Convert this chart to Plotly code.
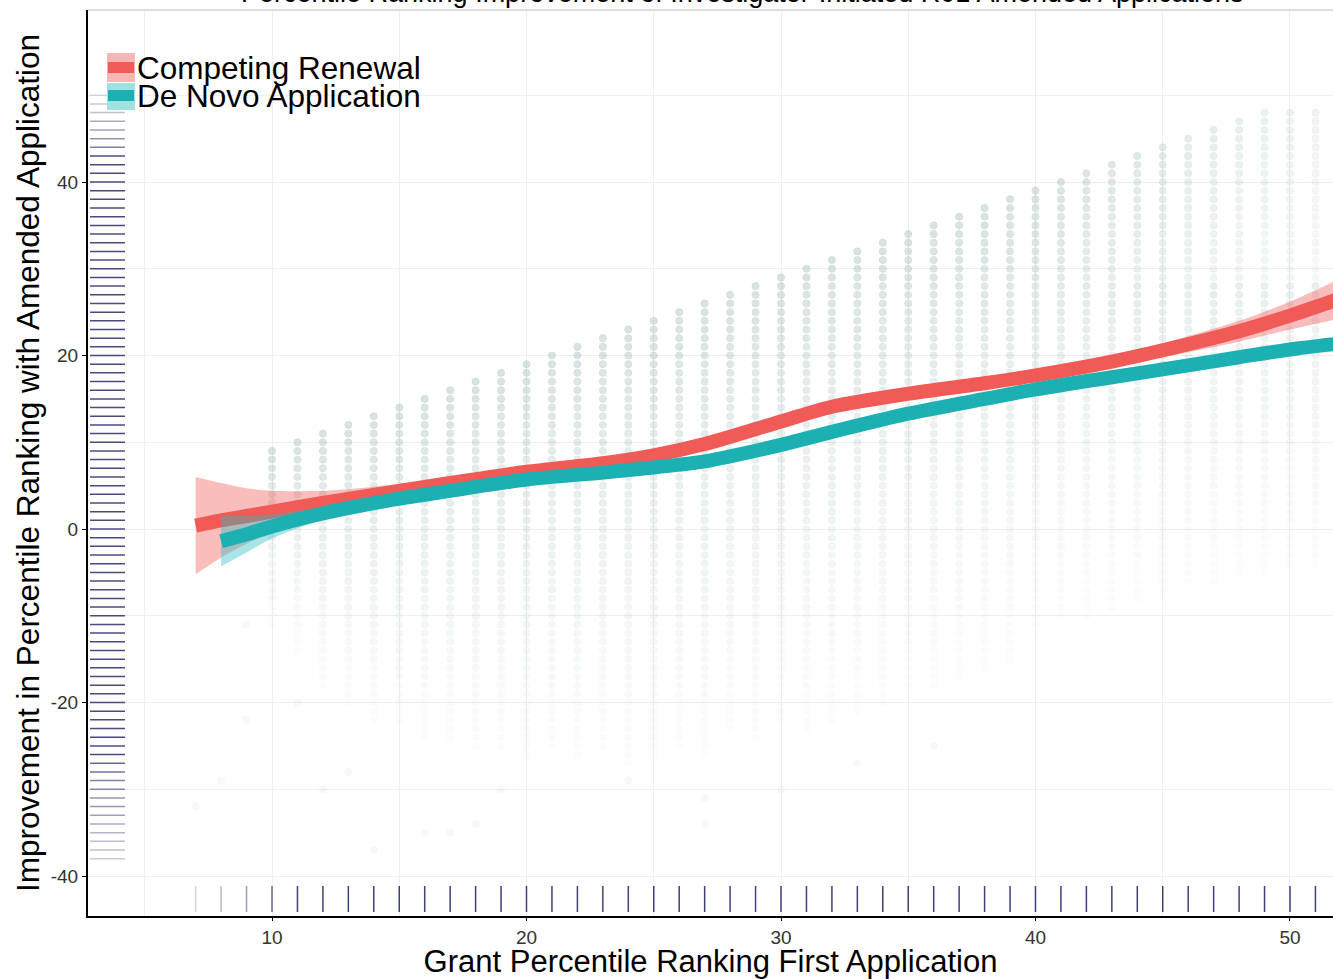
import plotly.graph_objects as go

# ---------------- data ----------------
# smooth fits (geom_smooth)
red_x = [7, 8, 9, 10, 12, 15, 17, 20, 23, 25, 27, 30, 32, 35, 38, 40, 43, 45, 48, 50, 52]
red_y = [0.4, 1.0, 1.5, 2.0, 3.0, 4.4, 5.3, 6.6, 7.6, 8.5, 9.8, 12.4, 14.1, 15.6, 16.8, 17.7, 19.3, 20.6, 22.8, 24.6, 26.6]
red_se = [5.6, 4.3, 3.2, 2.4, 1.4, 0.8, 0.7, 0.6, 0.6, 0.6, 0.6, 0.6, 0.6, 0.6, 0.6, 0.6, 0.7, 0.8, 1.2, 1.6, 2.3]

teal_x = [8, 9, 10, 12, 15, 17, 20, 23, 25, 27, 30, 32, 35, 38, 40, 43, 45, 48, 50, 52]
teal_y = [-1.4, -0.6, 0.3, 1.8, 3.5, 4.4, 5.7, 6.5, 7.1, 7.8, 9.7, 11.2, 13.3, 15.0, 16.1, 17.5, 18.4, 19.8, 20.7, 21.4]
teal_se = [2.9, 2.1, 1.4, 0.7, 0.45, 0.4, 0.35, 0.35, 0.35, 0.35, 0.35, 0.35, 0.35, 0.35, 0.35, 0.35, 0.4, 0.45, 0.5, 0.6]

# scatter columns: first-application percentile and the range of observed improvements
col_x = [10, 11, 12, 13, 14, 15, 16, 17, 18, 19, 20, 21, 22, 23, 24, 25, 26, 27, 28, 29, 30,
         31, 32, 33, 34, 35, 36, 37, 38, 39, 40, 41, 42, 43, 44, 45, 46, 47, 48, 49, 50, 51]
col_top = [9, 10, 11, 12, 13, 14, 15, 16, 17, 18, 19, 20, 21, 22, 23, 24, 25, 26, 27, 28, 29,
           30, 31, 32, 33, 34, 35, 36, 37, 38, 39, 40, 41, 42, 43, 44, 45, 46, 47, 48, 48, 48]
col_bot = [-11, -14, -18, -20, -22, -22, -24, -24, -25, -25, -26, -25, -26, -25, -27, -26, -25, -26, -23, -24, -22,
           -23, -22, -21, -20, -18, -18, -17, -16, -15, -12, -10, -10, -9, -8, -8, -6, -6, -5, -5, -4, -4]
extra_x = [7, 8, 9, 9, 11, 12, 13, 14, 16, 17, 18, 19, 24, 27, 27, 30, 33, 36]
extra_y = [-32, -29, -22, -11, -20, -30, -28, -37, -35, -35, -34, -30, -29, -34, -31, -30, -27, -25]

# rugs
rug_y = list(range(-38, 51))
rug_y_w = [0.25, 0.3, 0.3, 0.35, 0.4, 0.45, 0.5, 0.5, 0.55, 0.6, 0.65, 0.7] + [0.85] * 70 + [0.6, 0.5, 0.45, 0.4, 0.3, 0.25, 0.15]
rug_x = list(range(7, 53))
rug_x_w = [0.2, 0.3, 0.45, 0.7] + [0.9] * 42

x_ticks = [10, 20, 30, 40, 50]
y_ticks = [-40, -20, 0, 20, 40]

title = "Percentile Ranking Improvement of Investigator-Initiated R01 Amended Applications"
x_title = "Grant Percentile Ranking First Application"
y_title = "Improvement in Percentile Ranking with Amended Application"
legend_labels = ["Competing Renewal", "De Novo Application"]

RED = "#F05A57"
RED_FILL = "rgba(240,90,87,0.40)"
TEAL = "#1DB0B2"
TEAL_FILL = "rgba(40,190,192,0.40)"
FONT = "Liberation Sans, Arial, Helvetica, sans-serif"

# ---------------- build scatter points ----------------
px, py, pop = [], [], []
for x, top, bot in zip(col_x, col_top, col_bot):
    span = max(top - bot, 1)
    fade = 1.0 - 0.6 * min(max((x - 40) / 11.0, 0), 1)
    for y in range(bot, top + 1):
        t = (y - bot) / span
        px.append(x)
        py.append(y)
        pop.append((0.025 + 0.27 * t ** 1.4) * (fade if y > 28 else 1.0))
for x, y in zip(extra_x, extra_y):
    px.append(x)
    py.append(y)
    pop.append(0.06)

fig = go.Figure()
fig.add_trace(go.Scatter(x=px, y=py, mode="markers",
                         marker=dict(size=7, color="rgb(115,165,165)", opacity=pop,
                                     line=dict(width=1, color="rgb(125,135,135)")),
                         showlegend=False, hoverinfo="skip"))

def add_smooth(xs, ys, se, color, fill):
    lo = [a - b for a, b in zip(ys, se)]
    hi = [a + b for a, b in zip(ys, se)]
    fig.add_trace(go.Scatter(x=xs, y=lo, mode="lines", line=dict(width=0, shape="spline", smoothing=0.8),
                             showlegend=False, hoverinfo="skip"))
    fig.add_trace(go.Scatter(x=xs, y=hi, mode="lines", fill="tonexty", fillcolor=fill,
                             line=dict(width=0, shape="spline", smoothing=0.8),
                             showlegend=False, hoverinfo="skip"))
    fig.add_trace(go.Scatter(x=xs, y=ys, mode="lines", line=dict(width=14, color=color, shape="spline", smoothing=0.8),
                             showlegend=False, hoverinfo="skip"))

add_smooth(red_x, red_y, red_se, RED, RED_FILL)
add_smooth(teal_x, teal_y, teal_se, TEAL, TEAL_FILL)

shapes = []
RUG = "#2c2c6c"
for y, w in zip(rug_y, rug_y_w):
    shapes.append(dict(type="line", xref="paper", yref="y", x0=0.0016, x1=0.0297, y0=y, y1=y,
                       line=dict(color=RUG, width=1.5), opacity=w))
for x, w in zip(rug_x, rug_x_w):
    shapes.append(dict(type="line", xref="x", yref="paper", x0=x, x1=x, y0=0.0044, y1=0.0331,
                       line=dict(color=RUG, width=1.5), opacity=w))
# top panel border
shapes.append(dict(type="line", xref="paper", yref="paper", x0=0, x1=1, y0=1, y1=1,
                   line=dict(color="#bdbdbd", width=1)))

# manual legend keys
H, W = 906.0, 1245.0
def pxx(v):
    return (v - 88) / W
def pyy(v):
    return (916 - v) / H
for (top, bot, ltop, lbot, fc, lc) in [(53, 82, 62, 73, "rgb(248,182,180)", RED),
                                       (83, 110, 90, 101, "rgb(160,225,226)", TEAL)]:
    shapes.append(dict(type="rect", xref="paper", yref="paper", x0=pxx(107), x1=pxx(135),
                       y0=pyy(bot), y1=pyy(top), fillcolor=fc, line=dict(width=0), layer="above"))
    shapes.append(dict(type="rect", xref="paper", yref="paper", x0=pxx(108), x1=pxx(134),
                       y0=pyy(lbot), y1=pyy(ltop), fillcolor=lc, line=dict(width=0), layer="above"))

annotations = [
    dict(text=legend_labels[0], xref="paper", yref="paper", x=pxx(135), y=pyy(68), xanchor="left", yanchor="middle",
         showarrow=False, font=dict(family=FONT, size=31.5, color="black")),
    dict(text=legend_labels[1], xref="paper", yref="paper", x=pxx(135), y=pyy(96), xanchor="left", yanchor="middle",
         showarrow=False, font=dict(family=FONT, size=31.5, color="black")),
    dict(text=title, xref="paper", yref="paper", x=pxx(742), y=pyy(-7), xanchor="center", yanchor="middle",
         showarrow=False, font=dict(family=FONT, size=27, color="black")),
]

fig.update_layout(
    width=1333, height=979,
    margin=dict(l=88, r=0, t=10, b=63),
    paper_bgcolor="white", plot_bgcolor="white",
    font=dict(family=FONT),
    shapes=shapes, annotations=annotations,
    showlegend=False,
    xaxis=dict(range=[2.77, 51.69], tickvals=x_ticks, ticktext=[str(v) for v in x_ticks],
               showgrid=True, gridcolor="#efefef", gridwidth=1,
               minor=dict(dtick=5, tick0=0, showgrid=True, gridcolor="#efefef", gridwidth=1),
               zeroline=False, showline=True, linecolor="black", linewidth=2,
               ticks="outside", ticklen=3, tickcolor="black", tickwidth=1,
               tickfont=dict(size=19, color="#333333"),
               title=dict(text=x_title, font=dict(size=31, color="black"), standoff=4)),
    yaxis=dict(range=[-44.61, 59.83], tickvals=y_ticks, ticktext=[str(v) for v in y_ticks],
               showgrid=True, gridcolor="#efefef", gridwidth=1,
               minor=dict(dtick=10, tick0=0, showgrid=True, gridcolor="#efefef", gridwidth=1),
               zeroline=False, showline=True, linecolor="black", linewidth=2,
               ticks="outside", ticklen=4, tickcolor="black", tickwidth=1,
               tickfont=dict(size=19, color="#333333"),
               title=dict(text=y_title, font=dict(size=31.5, color="black"), standoff=2)),
)

fig.write_html("out.html", config={"displayModeBar": False},
               post_script="document.body.style.margin='0';document.body.style.padding='0';")
